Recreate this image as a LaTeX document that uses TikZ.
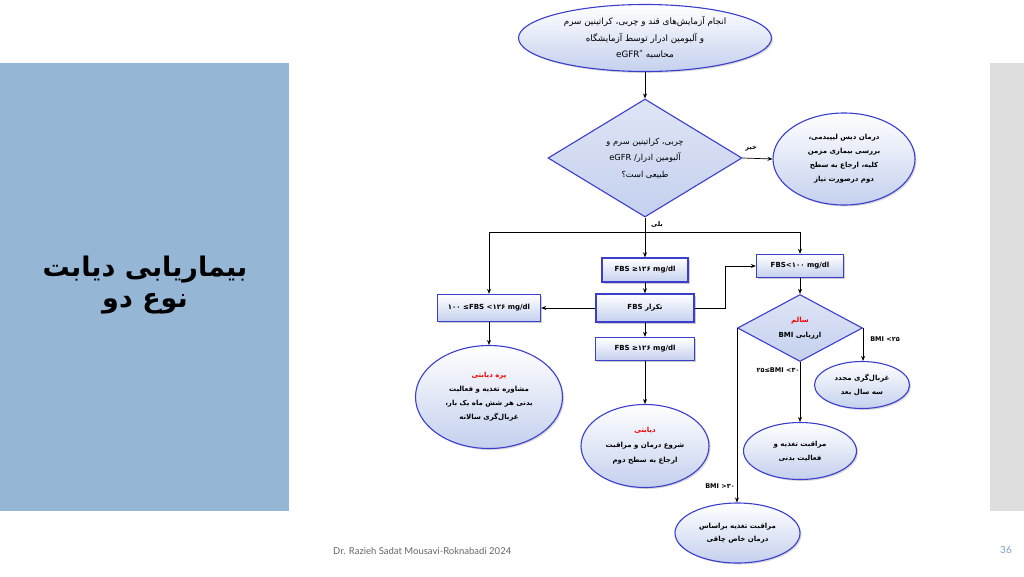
\documentclass[tikz,border=0pt]{standalone}
\usepackage{fontspec}
\usetikzlibrary{shapes.geometric,shadows,arrows.meta}
\TeXXeTstate=1
\newfontfamily\arabicfont[Script=Arabic]{DejaVu Sans}
\newfontfamily\latfont{DejaVu Sans}
\newfontfamily\footfont{Lato}
\definecolor{panelblue}{RGB}{149,182,212}
\definecolor{bargray}{RGB}{222,222,222}
\definecolor{edgeblue}{RGB}{58,62,205}
\definecolor{fillblue}{RGB}{196,208,238}
\definecolor{numblue}{RGB}{120,160,200}
\newcommand{\fa}[1]{\beginR #1\endR}
\newcommand{\la}[1]{\beginL #1\endL}
\newcommand{\relsym}[1]{\mbox{\latfont #1}}

\begin{document}
\begin{tikzpicture}[x=1pt, y=-1pt,
    every node/.style={font=\arabicfont\bfseries\fontsize{7}{14}\selectfont, align=center, inner sep=0pt},
    oval/.style={ellipse, draw=edgeblue, line width=1.1pt, top color=white, bottom color=fillblue,
      drop shadow={shadow xshift=1.5pt, shadow yshift=-1.5pt, opacity=0.3}},
    rhomb/.style={diamond, draw=edgeblue, line width=1.1pt, top color=fillblue!55, bottom color=fillblue, shape aspect=1.6},
    fbsbox/.style={rectangle, draw=edgeblue, line width=1.4pt, top color=white, bottom color=fillblue,
      drop shadow={shadow xshift=1.5pt, shadow yshift=-1.5pt, opacity=0.4}},
    arr/.style={-{Stealth[length=5pt,width=4pt]}, line width=0.7pt},
    lbl/.style={font=\arabicfont\bfseries\fontsize{6.5}{8}\selectfont}]
  \useasboundingbox (0,0) rectangle (1024,576);
  \fill[white] (0,0) rectangle (1024,576);

  % side panels
  \fill[panelblue] (0,63) rectangle (289,511);
  \fill[bargray] (990,63) rectangle (1024,511);
  \node[font=\arabicfont\bfseries\fontsize{27}{31}\selectfont] (title) at (145,285)
    {\fa{بیماریابی دیابت}\\\fa{نوع دو}};

  % tests and first decision
  \node[oval, minimum width=253, minimum height=67, font=\arabicfont\fontsize{8.8}{16.5}\selectfont] (tests) at (645,38)
    {\fa{انجام آزمایش‌های قند و چربی، کراتینین سرم}\\\fa{و آلبومین ادرار توسط آزمایشگاه}\\\fa{محاسبه \la{eGFR\textsuperscript{*}}}};
  \node[rhomb, minimum width=194, minimum height=118, font=\arabicfont\fontsize{8.3}{16.5}\selectfont] (normal) at (645,158)
    {\fa{چربی، کراتینین سرم و}\\\fa{آلبومین ادرار/ \la{eGFR}}\\\fa{طبیعی است؟}};
  \node[oval, minimum width=142, minimum height=92] (lipid) at (844,159)
    {\fa{درمان دیس لیپیدمی،}\\\fa{بررسی بیماری مزمن}\\\fa{کلیه، ارجاع به سطح}\\\fa{دوم درصورت نیاز}};

  % FBS boxes
  \node[fbsbox, minimum width=86, minimum height=24] (fbsHigh) at (645,270) {FBS \relsym{≥}\mbox{۱۲۶} mg/dl};
  \node[fbsbox, minimum width=98, minimum height=28] (repeat) at (645,308) {\fa{تکرار \la{FBS}}};
  \node[fbsbox, minimum width=99, minimum height=23] (fbsHighB) at (645,349) {FBS \relsym{≥}\mbox{۱۲۶} mg/dl};
  \node[fbsbox, minimum width=103, minimum height=27] (fbsPre) at (489,308) {\mbox{۱۰۰} \relsym{≤}FBS \relsym{<}\mbox{۱۲۶} mg/dl};
  \node[fbsbox, minimum width=87, minimum height=23] (fbsLow) at (800,266) {FBS\relsym{<}\mbox{۱۰۰} mg/dl};

  % outcomes
  \node[oval, minimum width=147, minimum height=103] (prediab) at (489,397)
    {\textcolor{red}{\fa{پره دیابتی}}\\\fa{مشاوره تغذیه و فعالیت}\\\fa{بدنی هر شش ماه یک بار،}\\\fa{غربال‌گری سالانه}};
  \node[oval, minimum width=128, minimum height=83, font=\arabicfont\bfseries\fontsize{7}{15}\selectfont] (diab) at (645,446)
    {\textcolor{red}{\fa{دیابتی}}\\\fa{شروع درمان و مراقبت}\\\fa{ارجاع به سطح دوم}};

  % BMI branch
  \node[rhomb, minimum width=125, minimum height=67, font=\arabicfont\bfseries\fontsize{7}{15}\selectfont] (bmi) at (800,328)
    {\textcolor{red}{\fa{سالم}}\\\fa{ارزیابی \la{BMI}}};
  \node[oval, minimum width=95, minimum height=47] (retest) at (862,385)
    {\fa{غربال‌گری مجدد}\\\fa{سه سال بعد}};
  \node[oval, minimum width=113, minimum height=57] (care) at (800,451)
    {\fa{مراقبت تغذیه و}\\\fa{فعالیت بدنی}};
  \node[oval, minimum width=125, minimum height=60, font=\arabicfont\bfseries\fontsize{7}{13}\selectfont] (obese) at (737.5,533)
    {\fa{مراقبت تغذیه براساس}\\\fa{درمان خاص چاقی}};

  % connectors
  \coordinate (yesL) at (489,232);
  \coordinate (yesR) at (800,232);
  \coordinate (bend) at (725,308);
  \draw[arr] (tests) -- (normal);
  \draw[arr] (normal.east) -- (lipid.west);
  \draw[line width=0.7pt] (yesL) -- (yesR);
  \draw[arr] (normal.south) -- (fbsHigh.north);
  \draw[arr] (yesL) -- (fbsPre.north);
  \draw[arr] (yesR) -- (fbsLow.north);
  \draw[arr] (fbsHigh) -- (repeat);
  \draw[arr] (repeat) -- (fbsHighB);
  \draw[arr] (repeat) -- (fbsPre);
  \draw[arr] (repeat.east) -- (bend) |- (fbsLow.west);
  \draw[arr] (fbsHighB) -- (diab);
  \draw[arr] (fbsPre) -- (prediab);
  \draw[arr] (fbsLow) -- (bmi);
  \draw[arr] (bmi.east) -- (bmi.east |- retest.north);
  \draw[arr] (bmi.south) -- (care.north);
  \draw[arr] (bmi.west) -- (bmi.west |- obese.north);

  % labels
  \node[lbl] (no) at (751,149) {\fa{خیر}};
  \node[lbl] (yes) at (657,225) {\fa{بلی}};
  \node[lbl] (bmiA) at (885,339) {BMI \relsym{<}\mbox{۲۵}};
  \node[lbl] (bmiB) at (778,370) {\mbox{۲۵}\relsym{≤}BMI \relsym{<}\mbox{۳۰}};
  \node[lbl] (bmiC) at (720,486) {BMI \relsym{>}\mbox{۳۰}};

  % footer
  \node[font=\footfont\fontsize{9.5}{11}\selectfont, text=black!60, anchor=west] (foot) at (333,551)
    {Dr. Razieh Sadat Mousavi-Roknabadi 2024};
  \node[font=\footfont\fontsize{10}{12}\selectfont, text=numblue] (page) at (1006,550) {36};
\end{tikzpicture}
\end{document}
